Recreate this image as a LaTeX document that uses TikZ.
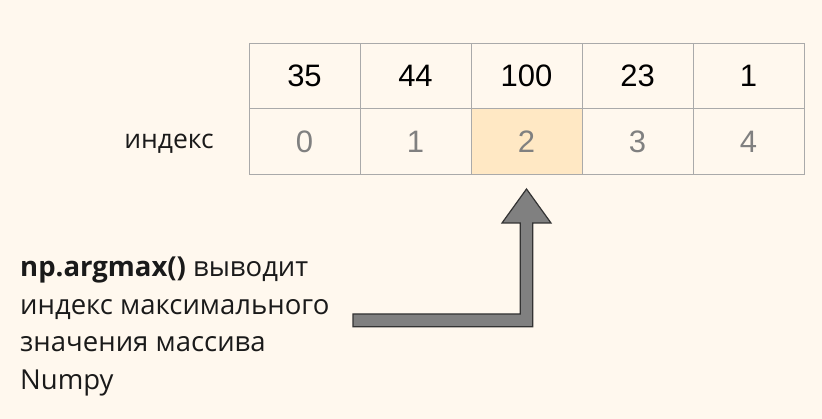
\documentclass[tikz,border=0pt]{standalone}
\usepackage{fontspec}
\setmainfont{Open Sans}
\newfontfamily\numfont{Liberation Sans}
\definecolor{bgcol}{HTML}{FFF8EE}
\definecolor{gridcol}{HTML}{AAAAAA}
\definecolor{idxcol}{HTML}{808080}
\definecolor{hlcol}{HTML}{FFE8C4}
\definecolor{arrowcol}{HTML}{808080}
\definecolor{txtcol}{HTML}{1A1A1A}
\tikzset{
  cell/.style={draw=gridcol, line width=1pt, minimum width=111pt, minimum height=65.5pt,
    inner sep=0pt, font=\numfont\fontsize{31}{33}\selectfont, text=black},
  idxcell/.style={cell, text=idxcol},
  fatarrow/.style={fill=arrowcol, draw=black!80, line width=1.2pt, line join=miter}
}
\begin{document}
\begin{tikzpicture}[x=1pt, y=-1pt]
    % фон
    \fill[bgcol] (0,0) rectangle (822,419);

    % массив и индексы
    \foreach \v [count=\i from 0] in {35,44,100,23,1} {
        \node[cell] (v\i) at (304.5+111*\i, 76) {\v};
        \node[idxcell] (k\i) at (304.5+111*\i, 141.5) {\i};
    }
    \node[idxcell, fill=hlcol] (k2) at (526.5, 141.5) {2};

    \node[text=txtcol, font=\fontsize{26.5}{30}\selectfont] (lbl) at (169, 144) {индекс};

    % описание
    \node[anchor=north west, align=left, inner sep=0pt, text=txtcol,
          font=\fontsize{27.5}{37.5}\selectfont] (desc) at (20, 257)
        {\textbf{np.argmax()} выводит\\индекс максимального\\значения массива\\Numpy};

    % точки стрелки
    \coordinate (T) at (526.5, 189);
    \coordinate (HL) at (502, 223);
    \coordinate (HR) at (551, 223);

    % стрелка
    \draw[fatarrow] (353, 314) -- (520.3, 314) -- (520.3, 223) -- (HL) -- (T)
        -- (HR) -- (532.7, 223) -- (532.7, 326.7) -- (353, 326.7) -- cycle;
\end{tikzpicture}
\end{document}
